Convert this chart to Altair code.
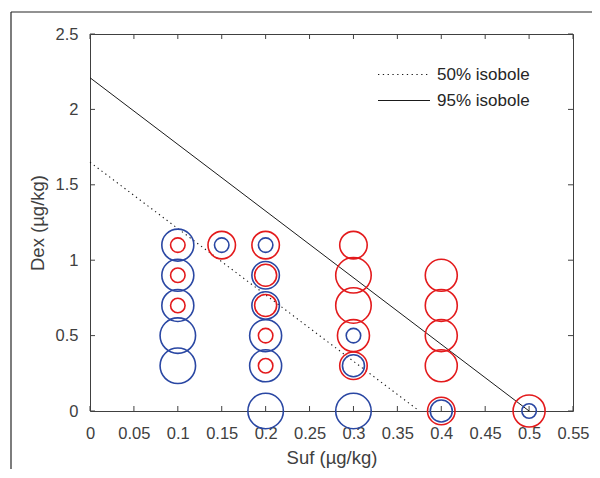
import altair as alt
import pandas as pd

# Circle data (Suf dose, Dex dose, size level 1..5)
blue_suf = [0.1, 0.1, 0.1, 0.1, 0.1, 0.15, 0.2, 0.2, 0.2, 0.2, 0.2, 0.2, 0.3, 0.3, 0.3, 0.4, 0.5]
blue_dex = [1.1, 0.9, 0.7, 0.5, 0.3, 1.1, 1.1, 0.9, 0.7, 0.5, 0.3, 0.0, 0.5, 0.3, 0.0, 0.0, 0.0]
blue_lvl = [4, 4, 4, 5, 5, 1, 1, 3, 3, 4, 4, 5, 1, 2, 5, 2, 1]

red_suf = [0.1, 0.1, 0.1, 0.15, 0.2, 0.2, 0.2, 0.2, 0.2, 0.3, 0.3, 0.3, 0.3, 0.3, 0.4, 0.4, 0.4, 0.4, 0.4, 0.5]
red_dex = [1.1, 0.9, 0.7, 1.1, 1.1, 0.9, 0.7, 0.5, 0.3, 1.1, 0.9, 0.7, 0.5, 0.3, 0.9, 0.7, 0.5, 0.3, 0.0, 0.0]
red_lvl = [1, 1, 1, 3, 3, 2, 2, 1, 1, 3, 5, 5, 4, 3, 4, 4, 4, 4, 3, 4]

# Isobole lines
iso50_suf = [0.0, 0.375]
iso50_dex = [1.65, 0.0]
iso95_suf = [0.0, 0.5]
iso95_dex = [2.21, 0.0]

legend_labels = ["50% isobole", "95% isobole"]

x_ticks = [0, 0.05, 0.1, 0.15, 0.2, 0.25, 0.3, 0.35, 0.4, 0.45, 0.5, 0.55]
y_ticks = [0, 0.5, 1, 1.5, 2, 2.5]

FONT = "Liberation Sans"
AX = "#404040"
BLUE = "#2a47a3"
RED = "#e31a1c"
W, H = 483, 377

xscale = alt.Scale(domain=[0, 0.55], nice=False, zero=False)
yscale = alt.Scale(domain=[0, 2.5], nice=False, zero=False)
size_scale = alt.Scale(domain=[1, 2, 3, 4, 5], range=[210, 484, 756, 1024, 1260])

xaxis = alt.Axis(values=x_ticks, format="~g", ticks=False, tickSize=0, domain=False, grid=False,
                 labelFontSize=16.5, labelPadding=14, labelColor=AX, labelFont=FONT,
                 labelOverlap=False, labelFlush=False,
                 title="Suf (µg/kg)", titleFontSize=18.5, titleFontWeight="normal",
                 titleColor=AX, titleFont=FONT, titlePadding=7)
yaxis = alt.Axis(values=y_ticks, format="~g", ticks=False, tickSize=0, domain=False, grid=False,
                 labelFontSize=16.5, labelPadding=12, labelColor=AX, labelFont=FONT,
                 labelOverlap=False, labelFlush=False,
                 title="Dex (µg/kg)", titleFontSize=18.5, titleFontWeight="normal",
                 titleColor=AX, titleFont=FONT, titlePadding=8)

X = lambda: alt.X("suf:Q", scale=xscale, axis=xaxis)
Y = lambda: alt.Y("dex:Q", scale=yscale, axis=yaxis)

df_blue = pd.DataFrame({"suf": blue_suf, "dex": blue_dex, "level": blue_lvl})
df_red = pd.DataFrame({"suf": red_suf, "dex": red_dex, "level": red_lvl})


def circles(df, color):
    return alt.Chart(df).mark_point(shape="circle", filled=False, color=color,
                                    strokeWidth=1.6, opacity=1).encode(
        x=X(), y=Y(), size=alt.Size("level:Q", scale=size_scale, legend=None))


DOT = [1.3, 3.5]
iso50 = alt.Chart(pd.DataFrame({"suf": iso50_suf, "dex": iso50_dex})).mark_line(
    color="#1a1a1a", strokeWidth=1.1, strokeDash=DOT).encode(x=X(), y=Y())
iso95 = alt.Chart(pd.DataFrame({"suf": iso95_suf, "dex": iso95_dex})).mark_line(
    color="#1a1a1a", strokeWidth=1).encode(x=X(), y=Y())

# inner ticks (MATLAB style, on all four sides)
dfx = pd.DataFrame({"suf": x_ticks})
dfy = pd.DataFrame({"dex": y_ticks})
tick_style = dict(color=AX, strokeWidth=1)
tb = alt.Chart(dfx).mark_rule(**tick_style).encode(x=X(), y=alt.value(H), y2=alt.value(H - 5))
tt = alt.Chart(dfx).mark_rule(**tick_style).encode(x=X(), y=alt.value(0), y2=alt.value(5))
tl = alt.Chart(dfy).mark_rule(**tick_style).encode(y=Y(), x=alt.value(0), x2=alt.value(5))
tr = alt.Chart(dfy).mark_rule(**tick_style).encode(y=Y(), x=alt.value(W), x2=alt.value(W - 5))

# legend (upper right)
leg_y = [40.5, 66.5]
leg50_line = alt.Chart(pd.DataFrame({"label": [legend_labels[0]]})).mark_rule(
    color="#1a1a1a", strokeWidth=1.1, strokeDash=DOT).encode(
    x=alt.value(288), x2=alt.value(340), y=alt.value(leg_y[0]))
leg95_line = alt.Chart(pd.DataFrame({"label": [legend_labels[1]]})).mark_rule(
    color="#1a1a1a", strokeWidth=1).encode(
    x=alt.value(288), x2=alt.value(340), y=alt.value(leg_y[1]))
leg50_text = alt.Chart(pd.DataFrame({"label": [legend_labels[0]]})).mark_text(
    align="left", baseline="middle", font=FONT, fontSize=17, color="#262626").encode(
    x=alt.value(347), y=alt.value(leg_y[0]), text="label:N")
leg95_text = alt.Chart(pd.DataFrame({"label": [legend_labels[1]]})).mark_text(
    align="left", baseline="middle", font=FONT, fontSize=17, color="#262626").encode(
    x=alt.value(347), y=alt.value(leg_y[1]), text="label:N")

# outer figure frame (top and left edges)
frame_top = alt.Chart(pd.DataFrame({"label": ["frame"]})).mark_rule(
    color="#262626", strokeWidth=1.2).encode(
    x=alt.value(-79), x2=alt.value(530), y=alt.value(-22))
frame_left = alt.Chart(pd.DataFrame({"label": ["frame"]})).mark_rule(
    color="#262626", strokeWidth=1.2).encode(
    x=alt.value(-79), y=alt.value(-22), y2=alt.value(460))

chart = alt.layer(
    frame_top, frame_left,
    tb, tt, tl, tr,
    iso50, iso95,
    circles(df_red, RED), circles(df_blue, BLUE),
    leg50_line, leg95_line, leg50_text, leg95_text,
).properties(
    width=W, height=H,
    autosize=alt.AutoSizeParams(type="none"),
    padding={"left": 82, "top": 26, "right": 19, "bottom": 58},
).configure_view(stroke=AX, strokeWidth=1)

chart.save("out.html", embed_options={"renderer": "svg", "actions": False})
